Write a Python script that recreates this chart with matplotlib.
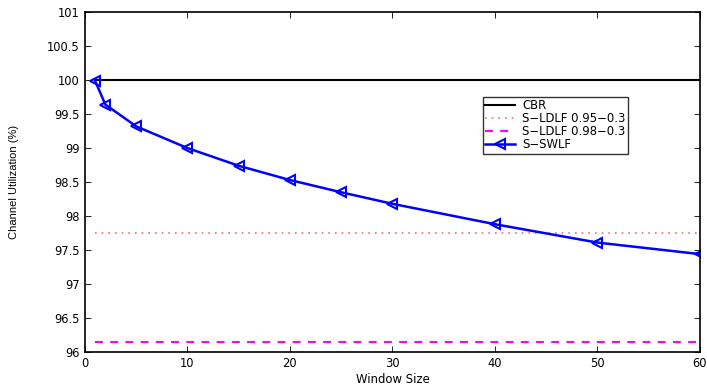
import matplotlib
matplotlib.use("Agg")
import matplotlib.pyplot as plt

plt.rcParams['font.family'] = ['DejaVu Sans']

window = [1, 2, 5, 10, 15, 20, 25, 30, 40, 50, 60]
swlf = [99.99, 99.64, 99.32, 99.00, 98.74, 98.53, 98.35, 98.18, 97.88, 97.61, 97.44]
cbr = 100.0
ldlf_095 = 97.75
ldlf_098 = 96.15
x_range = [1, 60]
yticks = [96, 96.5, 97, 97.5, 98, 98.5, 99, 99.5, 100, 100.5, 101]
ytick_labels = ['96', '96.5', '97', '97.5', '98', '98.5', '99', '99.5', '100', '100.5', '101']

fig = plt.figure(figsize=(7.07, 3.89), dpi=100)
ax = fig.add_axes([0.120, 0.095, 0.870, 0.874])

ax.plot(x_range, [cbr, cbr], color='black', lw=1.5, label='CBR')
ax.plot(x_range, [ldlf_095, ldlf_095], color='#ff6666', lw=1.2, ls=(0, (1, 3)), label='S\u2212LDLF 0.95\u22120.3')
ax.plot(x_range, [ldlf_098, ldlf_098], color='#ff00ff', lw=1.5, ls=(0, (3.8, 3.5)), label='S\u2212LDLF 0.98\u22120.3')
ax.plot(window, swlf, color='#0000ff', lw=1.8, marker='<', ms=7, mfc='none', mew=1.5, label='S\u2212SWLF')

ax.set_xlim(0, 60)
ax.set_ylim(96, 101)
ax.set_xticks(range(0, 61, 10))
ax.set_yticks(yticks)
ax.set_yticklabels(ytick_labels)
ax.tick_params(direction='in', labelsize=8.3, length=4, width=0.6, top=True, right=True)
for s in ax.spines.values():
    s.set_linewidth(1.2)
ax.set_xlabel('Window Size', fontsize=8.4)
ax.xaxis.set_label_coords(0.5, -0.062)
ax.set_ylabel('Channel Utilization (%)', fontsize=8, family='Liberation Sans')
ax.yaxis.set_label_coords(-0.107, 0.5)

leg = ax.legend(loc='upper left', bbox_to_anchor=(0.647, 0.75), fontsize=8.4, frameon=True,
                fancybox=False, edgecolor='black', handlelength=2.6, borderpad=0.2,
                labelspacing=0.0, handletextpad=0.6, borderaxespad=0)
leg.get_frame().set_linewidth(1.0)

fig.savefig('out.png', dpi=100)
